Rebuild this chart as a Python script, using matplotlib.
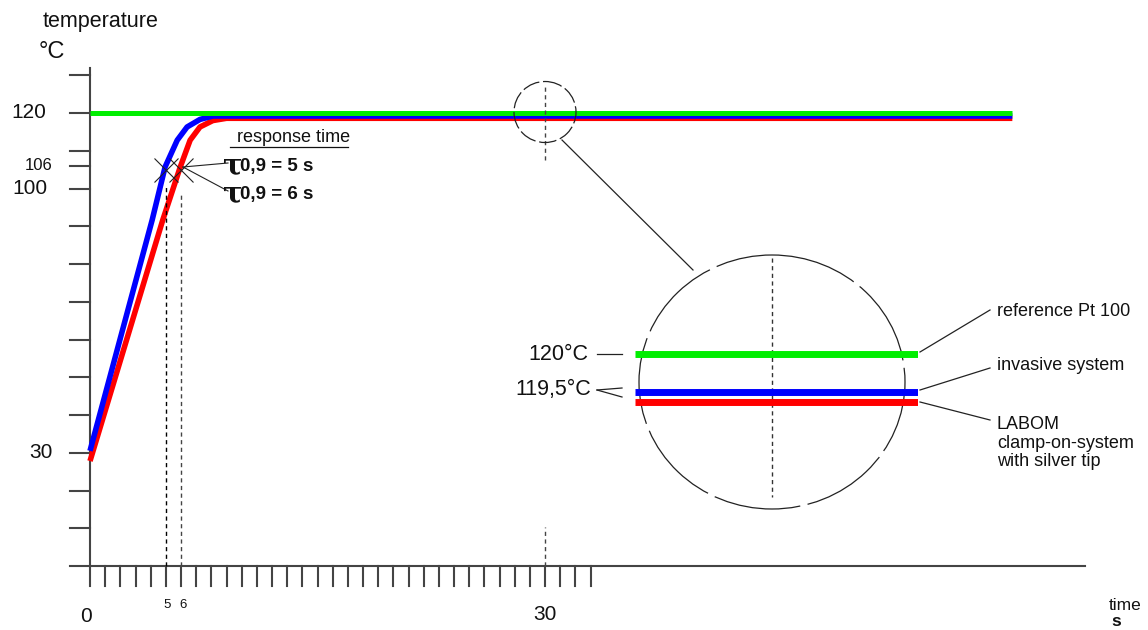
import matplotlib
matplotlib.use("Agg")
import matplotlib.pyplot as plt
from matplotlib.patches import Ellipse

plt.rcParams['font.family'] = ['Liberation Sans', 'DejaVu Sans']

# curves (time in s, temperature in °C)
ref_t = [0, 60.8]
ref_T = [120, 120]
inv_t = [0, 4.1, 4.95, 5.75, 6.4, 7.25, 8.1, 60.8]
inv_T = [30.5, 91.7, 105.7, 112.8, 116.3, 118.3, 119.2, 119.2]
lab_t = [0, 4.8, 5.95, 6.6, 7.25, 8.1, 9.0, 60.8]
lab_T = [27.8, 91.7, 105.7, 112.8, 116.3, 118.0, 118.6, 118.6]

# response times and the magnified values
tau_t = [5, 6]
tau_T = [105, 105]
zoom_T = [120.0, 119.5, 119.36]   # reference, invasive, LABOM
zoom_colors = ['#00ee00', '#0000ff', '#ff0000']

y_ticks = [130, 120, 110, 106, 100, 90, 80, 70, 60, 50, 40, 30, 20, 10]
y_labels = {120: ('120', 15), 106: ('106', 12), 100: ('100', 15), 30: ('30', 15)}
x_ticks = list(range(0, 34))

W, H = 1148, 630
fig = plt.figure(figsize=(W / 100, H / 100), dpi=100)

# main axes: pixel mapping x0=90 px, 15.17 px/s ; y0=566 px, 3.775 px/°C
px_s, px_c = 15.17, 3.775
ax = fig.add_axes([0, 0, 1, 1])
ax.set_xlim(-90 / px_s, (W - 90) / px_s)
ax.set_ylim((566 - H) / px_c, 566 / px_c)
ax.axis('off')

axcol = '#444444'
ax.plot([-20 / px_s, 65.6], [0, 0], color=axcol, lw=1.5)
ax.plot([0, 0], [0, 131.9], color=axcol, lw=1.5)
for t in x_ticks:
    ax.plot([t, t], [0, -20 / px_c], color=axcol, lw=1.5)
for T in y_ticks:
    ax.plot([-20 / px_s, 0], [T, T], color=axcol, lw=1.5)

ax.plot(lab_t, lab_T, color='#ff0000', lw=4.0, solid_joinstyle='round', solid_capstyle='butt')
ax.plot(inv_t, inv_T, color='#0000ff', lw=4.0, solid_joinstyle='round', solid_capstyle='butt')
ax.plot(ref_t, ref_T, color='#00ee00', lw=3.6, solid_capstyle='butt')

# response time guides
ax.plot([tau_t[0]] * 2, [0, 101], color='black', lw=1, ls=(0, (3, 2.5)))
ax.plot([tau_t[1]] * 2, [0, 99], color='#444444', lw=1, ls=(0, (3, 2.5)))
ax.plot(tau_t, tau_T, 'x', color='#222222', ms=17, mew=0.8)
ax.plot([30, 30], [0, 10.3], color='#444444', lw=1, ls=(0, (3, 2.5)))
ax.plot([30, 30], [107.5, 126.9], color='#444444', lw=1, ls=(0, (3, 2.5)))

# overlay in pixel coordinates for the schematic parts
ov = fig.add_axes([0, 0, 1, 1])
ov.set_xlim(0, W)
ov.set_ylim(H, 0)
ov.axis('off')
ov.patch.set_alpha(0)

ov.add_patch(Ellipse((545, 112), 62, 61, fill=False, lw=0.9, ec='#222222', ls=(0, (14, 3))))
ov.add_patch(Ellipse((772, 382), 266, 254, fill=False, lw=0.9, ec='#222222', ls=(0, (70, 6))))
ov.plot([562, 693], [140, 270], color='#222222', lw=0.9)
ov.plot([772, 772], [258, 497], color='#333333', lw=1, ls=(0, (3, 2.5)))

# magnified view
zx = fig.add_axes([635 / W, (H - 450) / H, (918 - 635) / W, 150 / H])
zx.set_xlim(0, 1)
zx.set_ylim(120 - 96 / 75, 120 + 54 / 75)
zx.axis('off')
zx.patch.set_alpha(0)
for v, c in zip(zoom_T, zoom_colors):
    zx.plot([0, 1], [v, v], color=c, lw=5, solid_capstyle='butt')

# leader lines
lc = '#222222'
ov.plot([183, 228], [167, 163], color=lc, lw=0.8)
ov.plot([183, 228], [167, 191], color=lc, lw=0.8)
ov.plot([597, 622], [354, 354], color=lc, lw=0.9)
ov.plot([597, 622], [390, 388], color=lc, lw=0.9)
ov.plot([597, 622], [390, 397], color=lc, lw=0.9)
ov.plot([920, 990], [352, 310], color=lc, lw=0.9)
ov.plot([920, 990], [390, 368], color=lc, lw=0.9)
ov.plot([920, 990], [402, 420], color=lc, lw=0.9)

# texts
tc = '#111111'
ov.text(43, 22, 'temperature', fontsize=15.5, color=tc, va='center')
ov.text(39, 52, '°C', fontsize=17, color=tc, va='center')
for T, (lab, fs) in y_labels.items():
    xr = {120: 46, 106: 53, 100: 48, 30: 53}[T]
    ov.text(xr, 566 - T * px_c, lab, fontsize=fs, color=tc, ha='right', va='center')
ov.text(86, 617, '0', fontsize=15, color=tc, ha='center', va='center')
ov.text(167, 605, '5', fontsize=9.5, color=tc, ha='center', va='center')
ov.text(183, 605, '6', fontsize=9.5, color=tc, ha='center', va='center')
ov.text(545, 615, '30', fontsize=15, color=tc, ha='center', va='center')
ov.text(1109, 606, 'time', fontsize=12.5, color=tc, va='center')
ov.text(1111, 621, 's', fontsize=12.5, color=tc, va='center', fontweight='bold')

ov.text(232, 138, ' response time', fontsize=13, color=tc, va='center')
ov.plot([230, 348], [147, 147], color=tc, lw=0.9)
for yy, s in [(166, '0,9 = 5 s'), (194, '0,9 = 6 s')]:
    ov.text(223, yy, 'τ', fontsize=21, color=tc, va='center', fontweight='bold',
            family=['DejaVu Serif'])
    ov.text(240, yy + 1, s, fontsize=13.5, color=tc, va='center', fontweight='bold')

ov.text(588, 354, '120°C', fontsize=15.5, color=tc, ha='right', va='center')
ov.text(591, 390, '119,5°C', fontsize=15.5, color=tc, ha='right', va='center')
ov.text(997, 311, 'reference Pt 100', fontsize=13, color=tc, va='center')
ov.text(997, 366, 'invasive system', fontsize=13, color=tc, va='center')
ov.text(997, 443, 'LABOM\nclamp-on-system\nwith silver tip', fontsize=13, color=tc,
        va='center', linespacing=1.15)

fig.savefig('out.png', dpi=100)
